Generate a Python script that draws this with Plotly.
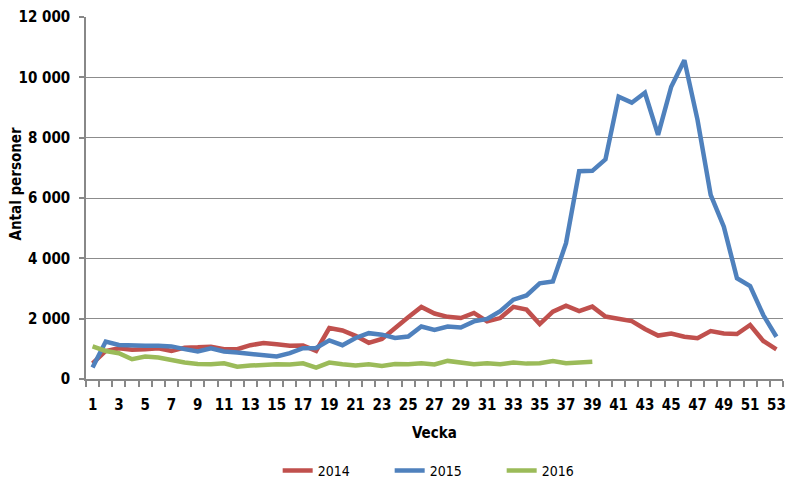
import plotly.graph_objects as go

# Weekly counts
weeks = list(range(1, 54))

persons_2014 = [
    520, 930, 1020, 970, 990, 1020, 930, 1040, 1050, 1070,
    990, 990, 1120, 1190, 1150, 1100, 1110, 930, 1690, 1610,
    1430, 1200, 1330, 1700, 2050, 2390, 2170, 2060, 2020, 2190,
    1910, 2020, 2390, 2300, 1820, 2230, 2430, 2250, 2400, 2070,
    1990, 1920, 1660, 1440, 1510, 1400, 1350, 1590, 1510, 1490,
    1790, 1260, 980,
]
persons_2015 = [
    380, 1240, 1130, 1100, 1100, 1100, 1080, 990, 910, 1020,
    910, 880, 845, 800, 745, 855, 1020, 1030, 1280, 1120,
    1360, 1520, 1470, 1360, 1410, 1740, 1630, 1740, 1710, 1910,
    1990, 2250, 2630, 2770, 3170, 3230, 4500, 6890, 6900, 7280,
    9360, 9160, 9490, 8090, 9690, 10570, 8590, 6100, 5050, 3340,
    3080, 2120, 1400,
]
persons_2016 = [
    1080, 930, 855, 655, 745, 710, 630, 545, 500, 490,
    520, 410, 445, 480, 490, 480, 520, 375, 545, 490,
    445, 490, 435, 500, 490, 520, 480, 600, 555, 490,
    520, 490, 545, 510, 520, 595, 520, 550, 575,
]

series = [
    ("2014", persons_2014, "#C0504D"),
    ("2015", persons_2015, "#4F81BD"),
    ("2016", persons_2016, "#9BBB59"),
]

FONT = "DejaVu Sans Condensed, Liberation Sans Narrow, sans-serif"

fig = go.Figure()
for name, values, color in series:
    fig.add_trace(go.Scatter(
        x=weeks[:len(values)],
        y=values,
        mode="lines",
        name=name,
        line=dict(color=color, width=4.5),
    ))

# axis titles placed by hand to sit where the reference has them
fig.add_annotation(
    text="<b>Vecka</b>",
    xref="paper", yref="paper",
    x=0.5, y=0,
    xanchor="center", yanchor="middle",
    yshift=-54,
    showarrow=False,
    font=dict(family=FONT, size=15, color="black"),
)
fig.add_annotation(
    text="<b>Antal personer</b>",
    xref="paper", yref="paper",
    x=-0.101, y=0.539,
    xanchor="center", yanchor="middle",
    textangle=-90,
    showarrow=False,
    font=dict(family=FONT, size=15, color="black"),
)

fig.update_layout(
    width=788,
    height=483,
    margin=dict(l=86, r=5, t=17, b=104),
    plot_bgcolor="white",
    paper_bgcolor="white",
    separators=", ",
    font=dict(family=FONT, size=15, color="black"),
    showlegend=True,
    legend=dict(
        orientation="h",
        yref="container",
        x=0.275, xanchor="left",
        y=0.025, yanchor="middle",
        font=dict(family=FONT, size=14, color="black"),
        entrywidth=67,
        entrywidthmode="pixels",
    ),
    xaxis=dict(
        range=[0.5, 53.5],
        tickmode="array",
        tickvals=weeks[::2],
        ticktext=[str(w) for w in weeks[::2]],
        ticks="",
        ticklabelstandoff=11,
        ticklabeloverflow="allow",
        showgrid=False,
        showline=True,
        linecolor="#888888",
        linewidth=1.5,
        automargin=False,
        tickfont=dict(family=FONT, size=15, color="black", weight="bold"),
        minor=dict(tickmode="linear", tick0=0.5, dtick=1, ticks="outside",
                   ticklen=6, tickcolor="#888888", tickwidth=1.5, showgrid=False),
        zeroline=False,
    ),
    yaxis=dict(
        range=[0, 12000],
        tickmode="linear",
        tick0=0,
        dtick=2000,
        tickformat=",d",
        ticks="outside",
        ticklen=5,
        ticklabelstandoff=6,
        tickcolor="#888888",
        tickwidth=1.5,
        showgrid=True,
        gridcolor="#8C8C8C",
        gridwidth=1.2,
        showline=True,
        linecolor="#888888",
        linewidth=1.5,
        zeroline=False,
        automargin=False,
        tickfont=dict(family=FONT, size=15, color="black", weight="bold"),
    ),
)

# drop the default page margin so the figure fills the window exactly
fig.write_html(
    "out.html",
    config={"displayModeBar": False},
    post_script="document.body.style.margin='0';document.body.style.overflow='hidden';",
)
